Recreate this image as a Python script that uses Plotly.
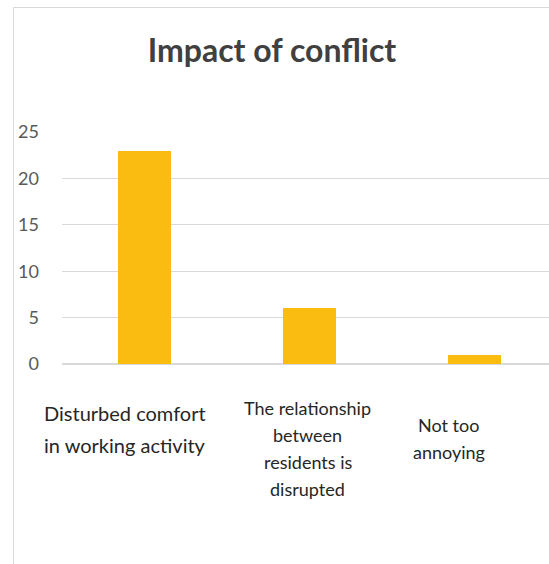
import plotly.graph_objects as go

# Survey results: impact of conflict
categories = ["Disturbed comfort", "The relationship", "Not too annoying"]
label_lines = [
    ["Disturbed comfort", "in working activity"],
    ["The relationship", "between", "residents is", "disrupted"],
    ["Not too", "annoying"],
]
counts = [23, 6, 1]
y_ticks = [0, 5, 10, 15, 20, 25]

W, H = 549, 564
L, T, B = 62, 132, 200
plot_w = W - L
plot_h = H - T - B

def px_x(p):
    return (p - L) / plot_w

def px_y(p):
    return (H - B - p) / plot_h

fig = go.Figure(
    go.Bar(
        x=categories,
        y=counts,
        width=0.32,
        marker=dict(color="#FBBC12", line=dict(width=0)),
        showlegend=False,
    )
)

# Category labels under the axis, one annotation per text line
label_shift = [-20, -2, -26]
first_line = [413, 408, 425]
line_step = [32, 27, 27]
label_size = [20, 18, 18]
for cat, lines, dx, y0, step, sz in zip(categories, label_lines, label_shift,
                                        first_line, line_step, label_size):
    for i, line in enumerate(lines):
        fig.add_annotation(
            x=cat, xref="x", xshift=dx,
            y=px_y(y0 + i * step), yref="paper", yanchor="middle",
            text=line, showarrow=False, align="center",
            font=dict(family="Lato", size=sz, color="#262626"),
        )

# Chart frame
fig.add_shape(
    type="rect", xref="paper", yref="paper",
    x0=px_x(13.5), x1=1.2, y0=-1.5, y1=px_y(7.5),
    line=dict(color="#d9d9d9", width=1), layer="below",
)

fig.update_layout(
    width=W, height=H,
    margin=dict(l=L, r=0, t=T, b=B),
    paper_bgcolor="white", plot_bgcolor="white",
    title=dict(
        text="<b>Impact of conflict</b>",
        xref="container", x=272 / W, xanchor="center",
        y=1 - 51 / H, yanchor="middle",
        font=dict(family="Lato", size=32, color="#404040"),
    ),
    bargap=0,
)
fig.update_xaxes(
    range=[-0.5, 2.45], showticklabels=False, showgrid=False,
    zeroline=False, showline=False, ticks="",
)
fig.update_yaxes(
    range=[0, 25], tickvals=y_ticks, showgrid=True, gridcolor="#d9d9d9",
    gridwidth=1, zeroline=True, zerolinecolor="#d9d9d9", showline=False,
    ticks="", ticklabelstandoff=22,
    tickfont=dict(family="Lato", size=18, color="#595959"),
)

fig.write_html("out.html")
